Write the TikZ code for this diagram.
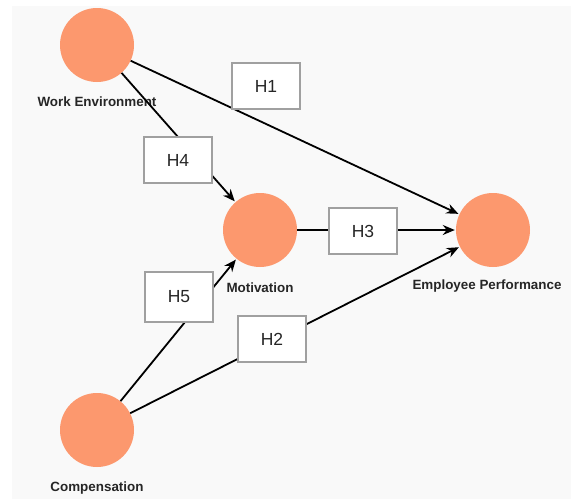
\documentclass[tikz,border=0pt]{standalone}
\usepackage{fontspec}
\setmainfont{Liberation Sans}
\usetikzlibrary{arrows.meta}
\definecolor{latent}{RGB}{252,152,110}
\definecolor{panel}{RGB}{249,249,249}
\definecolor{boxline}{RGB}{160,160,160}
\begin{document}
\begin{tikzpicture}[x=1pt,y=-1pt,
  lv/.style={circle,fill=latent,draw=none,minimum size=74pt,inner sep=0pt},
  lvlabel/.style={font=\fontsize{13.4}{16}\selectfont\bfseries,text=black!85,inner sep=0pt},
  hyp/.style={draw=boxline,line width=1.8pt,fill=white,minimum width=68pt,minimum height=46pt,inner sep=0pt,font=\fontsize{17.5}{20}\selectfont,text=black!85},
  path/.style={line width=1.8pt,black,-{Stealth[length=12pt,width=10pt]},shorten >=1pt}]
\useasboundingbox (0,0) rectangle (571,499);
\fill[panel] (12,6) rectangle (571,499);
% latent variables
\node[lv] (we) at (97,45) {};
\node[lv] (mot) at (260,230) {};
\node[lv] (ep) at (493,230) {};
\node[lv] (comp) at (97,430) {};
% labels
\node[lvlabel] (welab) at (97,102) {Work Environment};
\node[lvlabel] (motlab) at (260,288) {Motivation};
\node[lvlabel] (eplab) at (487,286) {Employee Performance};
\node[lvlabel] (complab) at (97,488) {Compensation};
% paths
\draw[path] (we) -- (ep);
\draw[path] (we) -- (mot);
\draw[path] (mot) -- (ep);
\draw[path] (comp) -- (mot);
\draw[path] (comp) -- (ep);
% hypothesis boxes
\node[hyp] (h1) at (266,86) {H1};
\node[hyp] (h4) at (178,160) {H4};
\node[hyp] (h3) at (363,231) {H3};
\node[hyp,minimum height=50pt] (h5) at (179,297) {H5};
\node[hyp] (h2) at (272,339) {H2};
\end{tikzpicture}
\end{document}
